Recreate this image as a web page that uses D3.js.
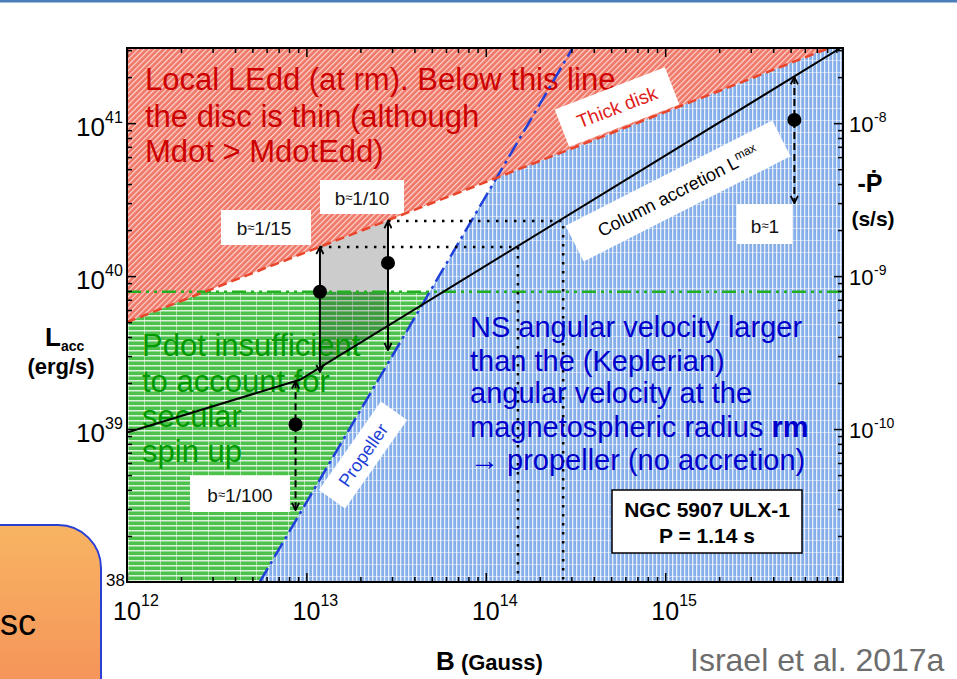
<!DOCTYPE html>
<html>
<head>
<meta charset="utf-8">
<script src="https://cdn.jsdelivr.net/npm/d3@7"></script>
<style>
  html, body { margin: 0; padding: 0; background: #fff; }
  svg { display: block; font-family: "Liberation Sans", Arial, sans-serif; }
</style>
</head>
<body>
<div id="chart"></div>
<script>
// tick labels
var xMajor = [1e12, 1e13, 1e14, 1e15];
var xMajorExp = ["12", "13", "14", "15"];
var yMajor = [1e39, 1e40, 1e41];
var yMajorExp = ["39", "40", "41"];
var pMajor = [1e-10, 1e-9, 1e-8];
var pMajorExp = ["-10", "-9", "-8"];

// limit lines, B (Gauss) vs L (erg/s)
var eddB = [1e12, 8.2e15];          // local Eddington (at rm)
var eddL = [5.0e39, 3.1e41];
var propB = [5.5e12, 3.05e14];      // propeller
var propL = [1e38, 3.1e41];
var colB = [1e12, 9.2e12, 9.5e15];  // column accretion Lmax
var colL = [9.5e38, 2.1e39, 3.1e41];
var pdotLimit = 7.9e39;             // Pdot limit

// beaming estimates
var bNames = ["1/100", "1/15", "1/10", "1"];
var bB = [8.7e12, 1.19e13, 2.85e13, 5.25e15];
var bTop = [2.05e39, 1.55e40, 2.29e40, 2.0e41];
var bDot = [1.07e39, 7.9e39, 1.22e40, 1.05e41];
var bLow = [2.95e38, 2.36e39, 3.28e39, 3.0e40];
var bDashed = [true, false, false, true];

// dotted guide lines: from b top level across to Lmax, then down
var guideB = [1.51e14, 2.7e14];

function init() {
    var W = 957, H = 679;
    var left = 127, right = 843, top = 48, bottom = 582;

    var svg = d3.select("#chart").append("svg")
        .attr("width", W)
        .attr("height", H);

    var x = d3.scaleLog().domain([1e12, 9.8e15]).range([left, right]);
    var y = d3.scaleLog().domain([1e38, 3.1e41]).range([bottom, top]);
    var yP = d3.scaleLog().domain([1e-11, 3.1e-8]).range([bottom, top]);

    // piecewise power law through the given points (extrapolates at the ends)
    function lineAt(bs, ls, B) {
        var lb = Math.log10(B), i = 0;
        while (i < bs.length - 2 && lb > Math.log10(bs[i + 1])) i++;
        var b0 = Math.log10(bs[i]), b1 = Math.log10(bs[i + 1]);
        var l0 = Math.log10(ls[i]), l1 = Math.log10(ls[i + 1]);
        return Math.pow(10, l0 + (l1 - l0) * (lb - b0) / (b1 - b0));
    }
    var edd = function(B) { return lineAt(eddB, eddL, B); };
    var prop = function(B) { return lineAt(propB, propL, B); };
    var col = function(B) { return lineAt(colB, colL, B); };
    var flat = function() { return pdotLimit; };

    function cross(f, g) {
        var lo = 12, hi = 16;
        for (var k = 0; k < 60; k++) {
            var mid = (lo + hi) / 2, B = Math.pow(10, mid);
            if ((f(B) - g(B)) * (f(Math.pow(10, lo)) - g(Math.pow(10, lo))) > 0) lo = mid; else hi = mid;
        }
        return Math.pow(10, (lo + hi) / 2);
    }

    var xMin = x.domain()[0], xMax = x.domain()[1];
    var yMin = y.domain()[0], yMax = 1e43;

    var defs = svg.append("defs");
    defs.append("clipPath").attr("id", "plotClip")
        .append("rect").attr("x", left).attr("y", top)
        .attr("width", right - left).attr("height", bottom - top);

    var pr = defs.append("pattern").attr("id", "hatchRed")
        .attr("width", 4).attr("height", 4)
        .attr("patternUnits", "userSpaceOnUse")
        .attr("patternTransform", "rotate(45)");
    pr.append("rect").attr("width", 4).attr("height", 4).attr("fill", "#f07868");
    pr.append("rect").attr("width", 1.2).attr("height", 4).attr("fill", "#fff").attr("opacity", 0.7);

    var pg = defs.append("pattern").attr("id", "hatchGreen")
        .attr("width", 16).attr("height", 5)
        .attr("patternUnits", "userSpaceOnUse");
    pg.append("rect").attr("width", 16).attr("height", 5).attr("fill", "#4cc24c");
    pg.append("rect").attr("width", 16).attr("height", 1.5).attr("fill", "#fff").attr("opacity", 0.8);
    pg.append("rect").attr("width", 1).attr("height", 5).attr("fill", "#fff").attr("opacity", 0.5);

    var pb = defs.append("pattern").attr("id", "hatchBlue")
        .attr("width", 4).attr("height", 12)
        .attr("patternUnits", "userSpaceOnUse");
    pb.append("rect").attr("width", 4).attr("height", 12).attr("fill", "#86afe9");
    pb.append("rect").attr("width", 1.3).attr("height", 12).attr("fill", "#fff").attr("opacity", 0.8);
    pb.append("rect").attr("width", 4).attr("height", 1).attr("fill", "#fff").attr("opacity", 0.5);

    defs.append("marker").attr("id", "chev")
        .attr("viewBox", "0 0 10 10").attr("refX", 9).attr("refY", 5)
        .attr("markerWidth", 9).attr("markerHeight", 9)
        .attr("markerUnits", "userSpaceOnUse")
        .attr("orient", "auto-start-reverse")
        .append("path").attr("d", "M1,1 L9,5 L1,9")
        .attr("fill", "none").attr("stroke", "#000").attr("stroke-width", 2);

    var grad = defs.append("linearGradient").attr("id", "orangeGrad")
        .attr("x1", 0).attr("y1", 0).attr("x2", 0).attr("y2", 1);
    grad.append("stop").attr("offset", "0%").attr("stop-color", "#f8b462");
    grad.append("stop").attr("offset", "100%").attr("stop-color", "#f5955a");

    // slide decorations
    svg.append("rect").attr("x", 0).attr("y", 0).attr("width", W).attr("height", 2.5).attr("fill", "#4a7ebb");
    svg.append("path")
        .attr("d", "M-5,679 L-5,525 L58,525 A43,43 0 0 1 101,568 L101,679")
        .attr("fill", "url(#orangeGrad)").attr("stroke", "#2a3fd6").attr("stroke-width", 2);
    svg.append("text").attr("x", 0).attr("y", 635)
        .attr("font-size", 36).attr("fill", "#000").text("sc");

    var toPt = d3.line().x(function(d) { return x(d[0]); }).y(function(d) { return y(d[1]); });
    var plot = svg.append("g").attr("clip-path", "url(#plotClip)");

    // regions
    var bEddPdot = cross(edd, flat);
    var bPropPdot = cross(prop, flat);
    var bPropEdd = cross(prop, edd);

    plot.append("path")
        .attr("d", toPt([[xMin, edd(xMin)], [xMax, edd(xMax)], [xMax, yMax], [xMin, yMax]]) + "Z")
        .attr("fill", "url(#hatchRed)");
    plot.append("path")
        .attr("d", toPt([[xMin, yMin], [xMin, edd(xMin)], [bEddPdot, pdotLimit], [bPropPdot, pdotLimit], [propB[0], yMin]]) + "Z")
        .attr("fill", "url(#hatchGreen)");
    plot.append("path")
        .attr("d", toPt([[propB[0], yMin], [bPropEdd, edd(bPropEdd)], [xMax, edd(xMax)], [xMax, yMin]]) + "Z")
        .attr("fill", "url(#hatchBlue)");

    // grey band between b = 1/15 and 1/10
    plot.append("path")
        .attr("d", toPt([[bB[1], edd(bB[1])], [bB[2], edd(bB[2])], [bB[2], col(bB[2])], [bB[1], col(bB[1])]]) + "Z")
        .attr("fill", "#000").attr("opacity", 0.2);

    // big slide annotations
    var redLines = ["Local LEdd (at rm). Below this line", "the disc is thin (although", "Mdot > MdotEdd)"];
    var redY = [90, 127, 162];
    svg.append("g").selectAll("text").data(redLines).enter().append("text")
        .attr("x", 145).attr("y", function(d, i) { return redY[i]; })
        .attr("font-size", 31).attr("fill", "#cc0000").text(function(d) { return d; });

    var greenLines = ["Pdot insufficient", "to account for", "secular", "spin up"];
    var greenY = [356, 392, 427, 462];
    svg.append("g").selectAll("text").data(greenLines).enter().append("text")
        .attr("x", 142).attr("y", function(d, i) { return greenY[i]; })
        .attr("font-size", 31).attr("fill", "#009900").text(function(d) { return d; });

    // white label boxes for b
    var boxes = [
        { i: 0, x: 190, y: 476, w: 100, h: 36, tx: 240, ty: 502 },
        { i: 1, x: 221, y: 210, w: 90, h: 35, tx: 264, ty: 235 },
        { i: 2, x: 320, y: 180, w: 84, h: 34, tx: 362, ty: 205 },
        { i: 3, x: 737, y: 204, w: 55, h: 40, tx: 765, ty: 233 }
    ];
    boxes.forEach(function(b) {
        svg.append("rect").attr("x", b.x).attr("y", b.y).attr("width", b.w).attr("height", b.h).attr("fill", "#fff");
        var t = svg.append("text").attr("x", b.tx).attr("y", b.ty).attr("text-anchor", "middle")
            .attr("font-size", 19).attr("fill", "#111");
        t.append("tspan").text("b");
        t.append("tspan").attr("font-size", 13).attr("dy", -3).text("≈");
        t.append("tspan").attr("dy", 3).text(bNames[b.i]);
    });

    // lines
    var lines = svg.append("g").attr("clip-path", "url(#plotClip)");
    lines.append("path").attr("d", toPt([[xMin, pdotLimit], [xMax, pdotLimit]]))
        .attr("fill", "none").attr("stroke", "#22b022").attr("stroke-width", 2.5)
        .attr("stroke-dasharray", "14,5,3,5,3,5");
    lines.append("path").attr("d", toPt(propB.map(function(b, i) { return [b, propL[i]]; })))
        .attr("fill", "none").attr("stroke", "#2040d8").attr("stroke-width", 2.5)
        .attr("stroke-dasharray", "16,5,3,5");
    lines.append("path").attr("d", toPt([[xMin, edd(xMin)], [xMax, edd(xMax)]]))
        .attr("fill", "none").attr("stroke", "#e8452a").attr("stroke-width", 2.5)
        .attr("stroke-dasharray", "9,5");
    lines.append("path").attr("d", toPt(colB.map(function(b, i) { return [b, colL[i]]; })))
        .attr("fill", "none").attr("stroke", "#000").attr("stroke-width", 2);

    // dotted guides
    [1, 2].forEach(function(k, j) {
        lines.append("path")
            .attr("d", toPt([[bB[k], bTop[k]], [guideB[j], bTop[k]], [guideB[j], yMin]]))
            .attr("fill", "none").attr("stroke", "#000").attr("stroke-width", 2.5)
            .attr("stroke-dasharray", "2.5,6.5");
    });

    // arrows and dots
    var arr = svg.append("g");
    bB.forEach(function(B, i) {
        arr.append("line")
            .attr("x1", x(B)).attr("x2", x(B))
            .attr("y1", y(bTop[i])).attr("y2", y(bLow[i]))
            .attr("stroke", "#000").attr("stroke-width", 2)
            .attr("stroke-dasharray", bDashed[i] ? "7,4" : null)
            .attr("marker-start", "url(#chev)").attr("marker-end", "url(#chev)");
        arr.append("circle").attr("cx", x(B)).attr("cy", y(bDot[i])).attr("r", 7).attr("fill", "#000");
    });

    // rotated labels on white
    function tag(cx, cy, ang, w, h, color, size, build) {
        var g = svg.append("g").attr("transform", "translate(" + cx + "," + cy + ") rotate(" + ang + ")");
        g.append("rect").attr("x", -w / 2).attr("y", -h / 2).attr("width", w).attr("height", h).attr("fill", "#fff");
        var t = g.append("text").attr("text-anchor", "middle").attr("y", size * 0.36)
            .attr("font-size", size).attr("fill", color);
        build(t);
    }
    tag(617, 107, -21, 118, 40, "#e0201a", 19, function(t) { t.text("Thick disk"); });
    tag(678, 191, -27, 232, 40, "#000", 18, function(t) {
        t.append("tspan").text("Column accretion L");
        t.append("tspan").attr("font-size", 12).attr("dy", -7).text("max");
    });
    tag(363, 455, -55, 108, 32, "#2040d8", 18, function(t) { t.text("Propeller"); });

    var blueLines = ["NS angular velocity larger", "than the (Keplerian)", "angular velocity at the", "magnetospheric radius ", "\u2192  propeller (no accretion)"];
    var blueY = [337, 371, 403, 437, 470];
    var bt = svg.append("g").selectAll("text").data(blueLines).enter().append("text")
        .attr("x", 470).attr("y", function(d, i) { return blueY[i]; })
        .attr("font-size", 29).attr("fill", "#0000cc").text(function(d) { return d; });
    bt.filter(function(d, i) { return i === 3; }).append("tspan").attr("font-weight", "bold").text("rm");

    // source box
    svg.append("rect").attr("x", 612).attr("y", 490).attr("width", 190).attr("height", 63)
        .attr("fill", "#fff").attr("stroke", "#000").attr("stroke-width", 1.5);
    svg.append("text").attr("x", 707).attr("y", 517).attr("text-anchor", "middle")
        .attr("font-size", 21).attr("font-weight", "bold").text("NGC 5907 ULX-1");
    svg.append("text").attr("x", 707).attr("y", 543).attr("text-anchor", "middle")
        .attr("font-size", 21).attr("font-weight", "bold").text("P = 1.14 s");

    // axes (ticks inward)
    var xMinor = x.ticks().filter(function(t) { return xMajor.indexOf(t) < 0; });
    var yMinor = y.ticks().filter(function(t) { return yMajor.indexOf(t) < 0 && t > 1e38; });
    function axis(gen, scale, vals, size, tx, ty) {
        svg.append("g").attr("transform", "translate(" + tx + "," + ty + ")")
            .call(gen(scale).tickValues(vals).tickSizeInner(size).tickSizeOuter(0).tickFormat(""))
            .call(function(g) {
                g.select(".domain").remove();
                g.selectAll("line").attr("stroke", "#000").attr("stroke-width", 1.5);
            });
    }
    axis(d3.axisBottom, x, xMinor, -5, 0, bottom);
    axis(d3.axisBottom, x, xMajor, -9, 0, bottom);
    axis(d3.axisTop, x, xMinor, -5, 0, top);
    axis(d3.axisTop, x, xMajor, -9, 0, top);
    axis(d3.axisLeft, y, yMinor, -5, left, 0);
    axis(d3.axisLeft, y, yMajor, -9, left, 0);
    axis(d3.axisRight, y, yMinor, -5, right, 0);
    axis(d3.axisRight, y, yMajor, -9, right, 0);

    svg.append("rect").attr("x", left).attr("y", top).attr("width", right - left).attr("height", bottom - top)
        .attr("fill", "none").attr("stroke", "#000").attr("stroke-width", 2);

    // tick labels
    xMajor.forEach(function(t, i) {
        svg.append("text").attr("x", x(t)).attr("y", 620).attr("text-anchor", "middle")
            .attr("font-size", 25).text("10");
        svg.append("text").attr("x", x(t) + 14).attr("y", 606).attr("font-size", 16).text(xMajorExp[i]);
    });
    yMajor.forEach(function(t, i) {
        svg.append("text").attr("x", 105).attr("y", y(t) + 13).attr("text-anchor", "end")
            .attr("font-size", 26).text("10");
        svg.append("text").attr("x", 105).attr("y", y(t)).attr("font-size", 16).text(yMajorExp[i]);
    });
    svg.append("text").attr("x", 125).attr("y", 586).attr("text-anchor", "end").attr("font-size", 17).text("38");
    pMajor.forEach(function(t, i) {
        svg.append("text").attr("x", 849).attr("y", yP(t) + 9).attr("font-size", 22).text("10");
        svg.append("text").attr("x", 874).attr("y", yP(t) - 1).attr("font-size", 14).text(pMajorExp[i]);
    });

    // axis titles
    var lt = svg.append("text").attr("x", 45).attr("y", 346).attr("font-weight", "bold");
    lt.append("tspan").attr("font-size", 26).text("L");
    lt.append("tspan").attr("font-size", 14).attr("dy", 5).text("acc");
    svg.append("text").attr("x", 61).attr("y", 374).attr("text-anchor", "middle")
        .attr("font-weight", "bold").attr("font-size", 22).text("(erg/s)");

    svg.append("text").attr("x", 870).attr("y", 192).attr("text-anchor", "middle")
        .attr("font-weight", "bold").attr("font-size", 25).text("-\u1E56");
    svg.append("text").attr("x", 873).attr("y", 226).attr("text-anchor", "middle")
        .attr("font-weight", "bold").attr("font-size", 21).text("(s/s)");

    var bx = svg.append("text").attr("x", 436).attr("y", 670).attr("font-weight", "bold");
    bx.append("tspan").attr("font-size", 26).text("B");
    bx.append("tspan").attr("font-size", 22).text(" (Gauss)");

    svg.append("text").attr("x", 690).attr("y", 671).attr("font-size", 32).attr("fill", "#6d6d6d")
        .text("Israel et al. 2017a");
}

window.onload = init;
</script>
</body>
</html>
